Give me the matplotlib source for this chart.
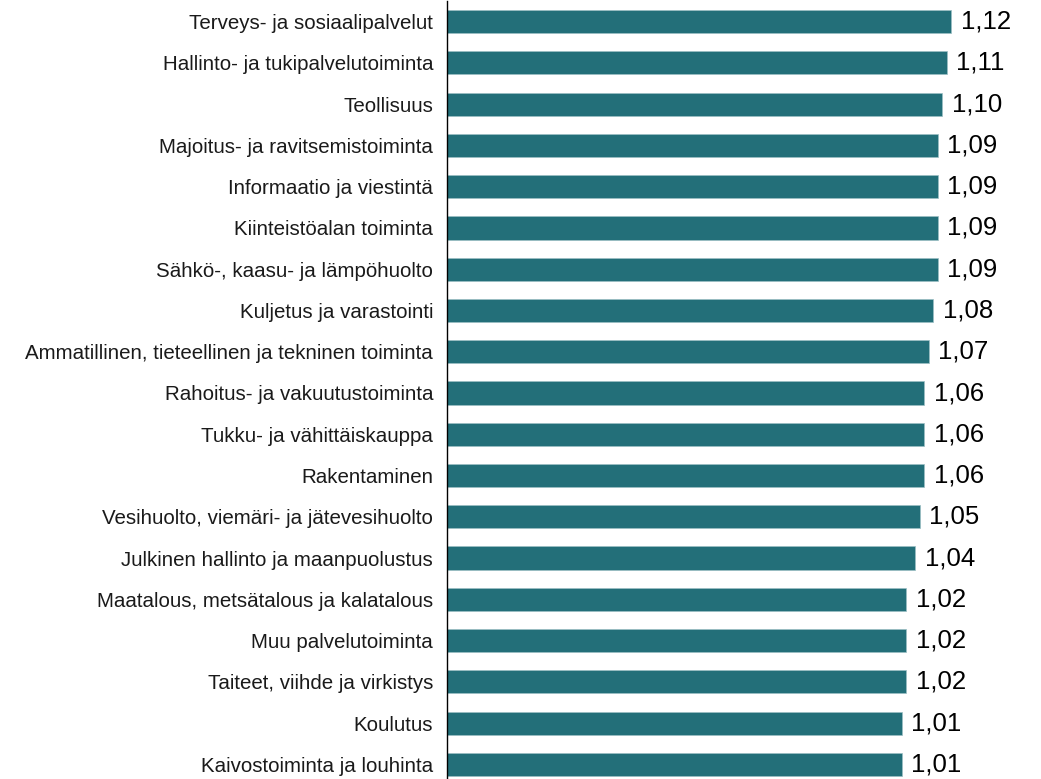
#!/usr/bin/env python3
# -*- coding: utf-8 -*-

import matplotlib
matplotlib.use('Agg')
import matplotlib.pyplot as plt

# data (top to bottom)
categories = [
    "Terveys- ja sosiaalipalvelut",
    "Hallinto- ja tukipalvelutoiminta",
    "Teollisuus",
    "Majoitus- ja ravitsemistoiminta",
    "Informaatio ja viestintä",
    "Kiinteistöalan toiminta",
    "Sähkö-, kaasu- ja lämpöhuolto",
    "Kuljetus ja varastointi",
    "Ammatillinen, tieteellinen ja tekninen toiminta",
    "Rahoitus- ja vakuutustoiminta",
    "Tukku- ja vähittäiskauppa",
    "Rakentaminen",
    "Vesihuolto, viemäri- ja jätevesihuolto",
    "Julkinen hallinto ja maanpuolustus",
    "Maatalous, metsätalous ja kalatalous",
    "Muu palvelutoiminta",
    "Taiteet, viihde ja virkistys",
    "Koulutus",
    "Kaivostoiminta ja louhinta",
]
values = [1.12, 1.11, 1.10, 1.09, 1.09, 1.09, 1.09, 1.08, 1.07, 1.06,
          1.06, 1.06, 1.05, 1.04, 1.02, 1.02, 1.02, 1.01, 1.01]

plt.rcParams['font.family'] = ['Liberation Sans', 'DejaVu Sans']

W, H = 1041, 779
fig = plt.figure(figsize=(W / 100, H / 100), dpi=100)
fig.patch.set_facecolor('white')

# axes placed in pixels: left spine at x=447, rows 41.3 px apart
left, top, bottom = 447, 1, 785
ax = fig.add_axes([left / W, (H - bottom) / H, (W - left) / W, (bottom - top) / H])

pos = list(range(len(categories)))
ax.barh(pos, values, height=0.56, color='#236f79',
        edgecolor='#9cc0c4', linewidth=0.5, zorder=2)

ax.set_ylim(len(categories) - 0.5, -0.5)
ax.set_xlim(0, (W - left) / 450.0)

ax.set_yticks(pos)
ax.set_yticklabels(categories, fontsize=14.8, color='#1a1a1a')
ax.tick_params(axis='y', length=0, pad=10)
ax.set_xticks([])

for s in ['top', 'right', 'bottom']:
    ax.spines[s].set_visible(False)
ax.spines['left'].set_color('black')
ax.spines['left'].set_linewidth(1.0)

for p, v in zip(pos, values):
    ax.annotate(("%.2f" % v).replace('.', ','), xy=(v, p), xytext=(7, 0),
                textcoords='offset points', va='center', ha='left',
                fontsize=18.5, color='black')

fig.savefig('out.png', dpi=100, facecolor=fig.get_facecolor())
